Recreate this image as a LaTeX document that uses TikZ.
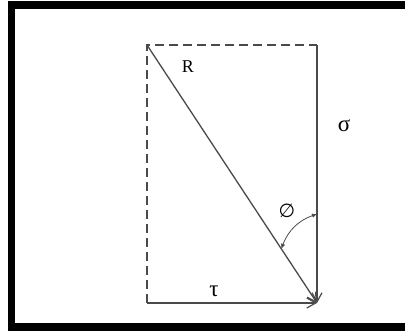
\documentclass[tikz,border=0pt]{standalone}
\usepackage{fontspec}
\setmainfont{Liberation Serif}
\newfontfamily\symfont{DejaVu Sans}
\usetikzlibrary{arrows.meta,calc}
\definecolor{linegray}{HTML}{4A4A4A}
\begin{document}
\begin{tikzpicture}[x=1pt,y=-1pt,
  vec/.style={draw=linegray,line width=1.3pt,-{Straight Barb[length=9pt,width=10pt,line width=1.2pt]}},
  dashline/.style={draw=linegray,line width=1.3pt,dash pattern=on 9pt off 5pt},
  lab/.style={inner sep=0pt,font=\fontsize{18}{20}\selectfont},
  greek/.style={inner sep=0pt,font=\fontsize{23}{25}\selectfont},
  ang/.style={draw=linegray,line width=0.8pt,{Latex[length=5pt,width=4.5pt]}-{Latex[length=5pt,width=4.5pt]}}]
\useasboundingbox (0,0) rectangle (405,331);
\fill[white] (0,0) rectangle (405,331);
\fill[black] (8,1) rectangle (405,331);
\fill[white] (15,9) rectangle (405,323);
\coordinate (A) at (147,45);
\coordinate (B) at (317,45);
\coordinate (C) at (317,303);
\coordinate (D) at (147,303);
\draw[dashline] (D) -- (A) -- (B);
\draw[vec] (B) -- (C);
\draw[vec] (D) -- (C);
\draw[vec] (A) -- (C);
\coordinate (P) at (317,214);
\coordinate (Q) at ($(A)!0.79!(C)$);
\draw[ang] (P) to[bend right=25] (Q);
\node[lab] (R) at (188,67) {R};
\node[greek] (s) at (344,126) {σ};
\node[greek] (t) at (214,291) {τ};
\node[lab,font=\symfont\fontsize{19}{21}\selectfont] (phi) at (287,211) {∅};
\end{tikzpicture}
\end{document}
